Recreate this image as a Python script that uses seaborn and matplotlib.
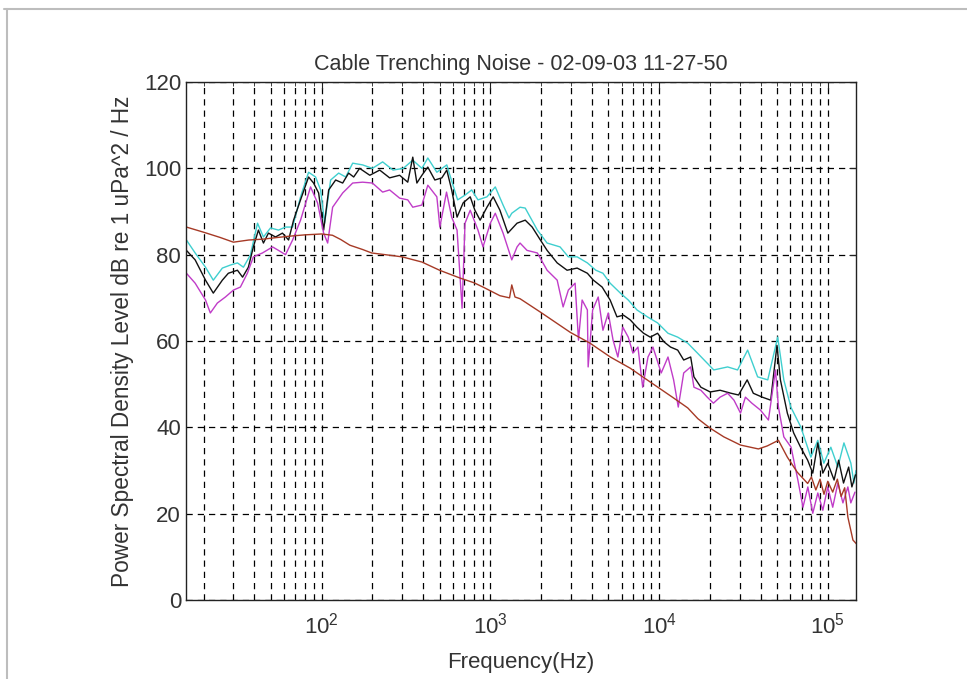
import matplotlib
matplotlib.use("Agg")
import matplotlib.pyplot as plt
import seaborn as sns
from matplotlib.lines import Line2D
from matplotlib.ticker import LogLocator, NullFormatter

# Values (frequency in Hz, level in dB)
max_freq = [15.8, 17.8, 20.5, 22.8, 25.8, 28.8, 31.7, 34.4, 37.8, 41.7, 45.2, 49.8, 55.5, 61.1, 67.3,
            75.0, 83.7, 92.1, 98.6, 104.2, 113.1, 126.2, 138.9, 152.8, 175, 200, 230, 265, 305, 347,
            393, 426, 482, 552, 595, 640, 708, 775, 845, 955, 1070, 1190, 1290, 1340, 1500, 1610,
            1900, 2170, 2590, 2900, 3270, 3760, 4220, 4650, 5130, 5900, 6570, 7400, 8530, 9800,
            11300, 12900, 14800, 16900, 21100, 25500, 29200, 33500, 38400, 44100, 50500, 54900,
            60400, 69200, 79400, 87300, 94800, 104300, 114800, 124700, 137100, 142900, 147000]
max_level = [83.4, 80.4, 77.1, 74.1, 76.9, 77.6, 78.1, 77.1, 79.9, 87.3, 84.1, 86.2, 85.7, 86.4, 86.4,
             93.4, 99.1, 98.0, 95.0, 87.3, 97.3, 98.9, 98.0, 101.2, 100.8, 100.0, 101.5, 99.6, 100.0, 101.9,
             100.0, 102.4, 99.1, 100.8, 96.6, 92.7, 93.8, 95.0, 92.7, 93.4, 95.7, 91.5, 88.5, 89.6, 91.0, 90.8,
             85.7, 82.7, 81.8, 79.5, 79.5, 78.1, 76.4, 75.7, 73.4, 71.1, 69.5, 67.2, 65.6, 64.2,
             61.8, 60.9, 59.5, 57.2, 53.3, 54.0, 53.3, 57.9, 51.7, 51.0, 60.9, 51.0,
             44.7, 40.1, 33.1, 37.0, 31.7, 35.4, 30.8, 36.4, 31.7, 27.1, 30.0]

mean_freq = [15.8, 17.8, 20.5, 22.8, 25.8, 28.0, 31.7, 34.0, 36.8, 39.4, 42.2, 45.2, 48.4, 53.3, 58.6,
             63.7, 68.2, 75.0, 83.7, 89.6, 96.0, 102.8, 110.1, 121.1, 133.3, 144.6, 154.9, 168, 193, 221,
             253, 290, 324, 347, 367, 393, 426, 469, 516, 552, 590, 635, 690, 760, 810, 870, 955, 1040,
             1140, 1270, 1440, 1610, 1770, 1980, 2170, 2490, 2850, 3270, 3760, 4080, 4600, 5130, 5630,
             6150, 6750, 7400, 8100, 8870, 9800, 10700, 11700, 12900, 14000, 15400, 16100, 17700, 20100,
             23000, 26700, 29600, 33300, 36200, 40900, 45900, 50000, 52400, 57600, 62800, 69000, 76000,
             81500, 87300, 93500, 100000, 109000, 116000, 124000, 133000, 139000, 146000]
mean_level = [81.0, 78.8, 74.1, 71.1, 74.1, 75.7, 76.4, 74.8, 77.1, 81.8, 85.7, 82.7, 85.0, 84.1, 85.0,
              83.4, 88.0, 92.7, 98.0, 96.6, 94.3, 85.7, 95.0, 97.3, 96.6, 98.9, 98.0, 100.0, 98.4, 99.6,
              97.8, 98.4, 96.8, 102.6, 96.6, 98.4, 100.3, 97.3, 97.8, 99.6, 95.0, 88.7, 92.0, 93.4, 90.3,
              88.0, 91.0, 93.4, 90.3, 85.0, 87.3, 88.0, 86.4, 83.4, 81.0, 78.1, 76.4, 76.9, 75.7, 74.1,
              72.5, 69.5, 65.6, 66.0, 64.9, 63.2, 61.8, 60.9, 61.8, 59.8, 58.6, 57.9, 55.6, 56.3, 51.7,
              49.3, 48.2, 48.6, 47.9, 47.5, 51.0, 47.9, 47.0, 46.3, 59.0, 51.0, 43.3, 38.7, 35.4, 32.4,
              29.4, 36.4, 29.4, 31.7, 27.8, 32.4, 27.1, 30.8, 26.2, 29.0]

min_freq = [15.8, 17.8, 20.5, 21.9, 24.1, 26.9, 30.0, 33.0, 36.3, 39.4, 44.6, 51.2, 55.5, 61.1, 67.3,
            75.0, 86.0, 94.6, 102.8, 108.6, 116.2, 133.3, 152.8, 175, 200, 230, 253, 290, 324, 347,
            393, 426, 482, 502, 550, 590, 635, 680, 708, 760, 845, 905, 1000, 1070, 1190, 1340, 1440,
            1500, 1650, 1900, 2170, 2490, 2700, 2900, 3180, 3330, 3500, 3760, 3800, 4040, 4360, 4650,
            5000, 5340, 5700, 6100, 6570, 7000, 7500, 8000, 8600, 9200, 10300, 11300, 12200, 13000,
            14000, 15400, 16100, 17700, 19300, 21000, 23000, 25500, 27800, 30400, 32500, 35500, 39900,
            44500, 49000, 51000, 54900, 60600, 66500, 71300, 76200, 81500, 87300, 93500, 100000,
            107000, 114800, 123000, 131600, 137000, 145000]
min_level = [75.7, 73.4, 69.5, 66.5, 68.8, 70.2, 71.8, 72.5, 75.7, 79.5, 80.4, 81.8, 81.0, 80.0, 83.4,
             88.0, 95.7, 92.0, 85.0, 82.7, 91.0, 94.3, 96.6, 96.8, 96.6, 94.5, 95.0, 93.1, 92.7, 91.0,
             91.5, 96.1, 93.4, 86.4, 94.5, 88.7, 85.7, 67.6, 87.3, 90.3, 85.7, 81.8, 87.3, 89.6, 85.0,
             78.8, 81.8, 82.7, 81.0, 80.4, 76.4, 74.1, 67.9, 71.8, 73.4, 60.2, 69.5, 67.2, 54.0, 67.2,
             70.2, 62.5, 66.5, 60.2, 56.3, 63.2, 60.9, 57.2, 58.6, 49.3, 56.3, 58.6, 52.6, 56.3, 51.0,
             44.7, 52.6, 54.0, 49.3, 48.6, 47.0, 45.6, 47.0, 47.9, 46.3, 43.3, 47.0, 45.6, 44.0, 41.7,
             53.3, 44.7, 37.8, 35.4, 27.8, 21.5, 26.2, 20.1, 24.8, 20.8, 26.2, 21.5, 27.1, 22.5, 26.2,
             22.5, 25.0]

bg_freq = [15.8, 20, 25, 30, 37, 45, 55, 65, 80, 100, 116, 130, 147, 175, 198, 250, 300, 393, 500, 660,
           800, 905, 1140, 1300, 1340, 1400, 1500, 1980, 2980, 3900, 5140, 6750, 8870, 12200, 14800,
           17000, 20100, 24200, 30400, 38800, 43800, 51000, 57600, 66000, 76000, 80000, 85000, 90000,
           95000, 100000, 107000, 114000, 120000, 126000, 131600, 141000, 148000]
bg_level = [86.4, 85.2, 84.0, 82.9, 83.4, 83.6, 84.0, 84.3, 84.6, 84.8, 84.5, 83.5, 82.2, 81.2, 80.4,
            79.9, 79.5, 78.3, 76.4, 74.6, 73.5, 72.5, 70.5, 70.0, 73.0, 70.2, 69.8, 66.7, 62.0, 59.5,
            56.3, 53.7, 50.5, 46.8, 44.5, 42.0, 39.8, 37.8, 35.9, 35.0, 35.7, 37.0, 33.1, 29.6, 27.0,
            28.5, 25.5, 28.0, 24.5, 27.5, 25.0, 28.0, 24.0, 26.0, 19.2, 13.9, 13.0]

y_ticks = [0, 20, 40, 60, 80, 100, 120]

series = [
    (max_freq, max_level, '#3fcfcf'),
    (mean_freq, mean_level, '#111111'),
    (min_freq, min_level, '#c03cc8'),
    (bg_freq, bg_level, '#a63a26'),
]


def plot_psd():  # draws the four spectra in a MATLAB-like frame
    sns.set_style("white")
    plt.rcParams['font.family'] = ['Liberation Sans', 'DejaVu Sans']
    plt.rcParams['mathtext.fontset'] = 'custom'
    plt.rcParams['mathtext.rm'] = 'Liberation Sans'

    fig = plt.figure(figsize=(9.67, 6.79), dpi=100)
    ax = fig.add_axes([0.1923, 0.1163, 0.6929, 0.7629])

    for freq, level, color in series:
        sns.lineplot(x=freq, y=level, ax=ax, color=color, lw=1.0,
                     estimator=None, sort=False)

    ax.set_xscale('log')
    ax.set_xlim(15.7, 147000)
    ax.set_ylim(0, 120)
    ax.set_yticks(y_ticks)
    ax.xaxis.set_major_locator(LogLocator(base=10, numticks=10))
    ax.xaxis.set_minor_locator(LogLocator(base=10, subs=range(2, 10), numticks=40))
    ax.xaxis.set_minor_formatter(NullFormatter())

    dash = (0, (5, 4))
    ax.grid(True, which='major', axis='both', color='black', ls=dash, lw=0.9)
    ax.grid(True, which='minor', axis='x', color='black', ls=dash, lw=0.9)

    ax.tick_params(which='both', direction='in', top=True, right=True, color='#222222')
    ax.tick_params(which='major', length=5, labelsize=16, labelcolor='#333333')
    ax.tick_params(axis='x', which='major', pad=9)
    ax.tick_params(which='minor', length=3)
    for spine in ax.spines.values():
        spine.set_color('#222222')
        spine.set_linewidth(1.0)

    ax.set_title('Cable Trenching Noise - 02-09-03 11-27-50', fontsize=15.5, color='#333333', pad=9)
    ax.set_xlabel('Frequency(Hz)', fontsize=16, color='#333333', labelpad=10)
    ax.set_ylabel('Power Spectral Density Level dB re 1 uPa^2 / Hz', fontsize=16.3,
                  color='#333333', labelpad=7)

    # light grey figure border (top and left edges only)
    fig.add_artist(Line2D([4 / 967, 1], [1 - 8.5 / 679] * 2, transform=fig.transFigure,
                          color='#bdbdbd', lw=1.5))
    fig.add_artist(Line2D([6.5 / 967] * 2, [0, 1 - 8.5 / 679], transform=fig.transFigure,
                          color='#bdbdbd', lw=1.5))

    fig.savefig('out.png', dpi=100)


if __name__ == "__main__":
    plot_psd()
